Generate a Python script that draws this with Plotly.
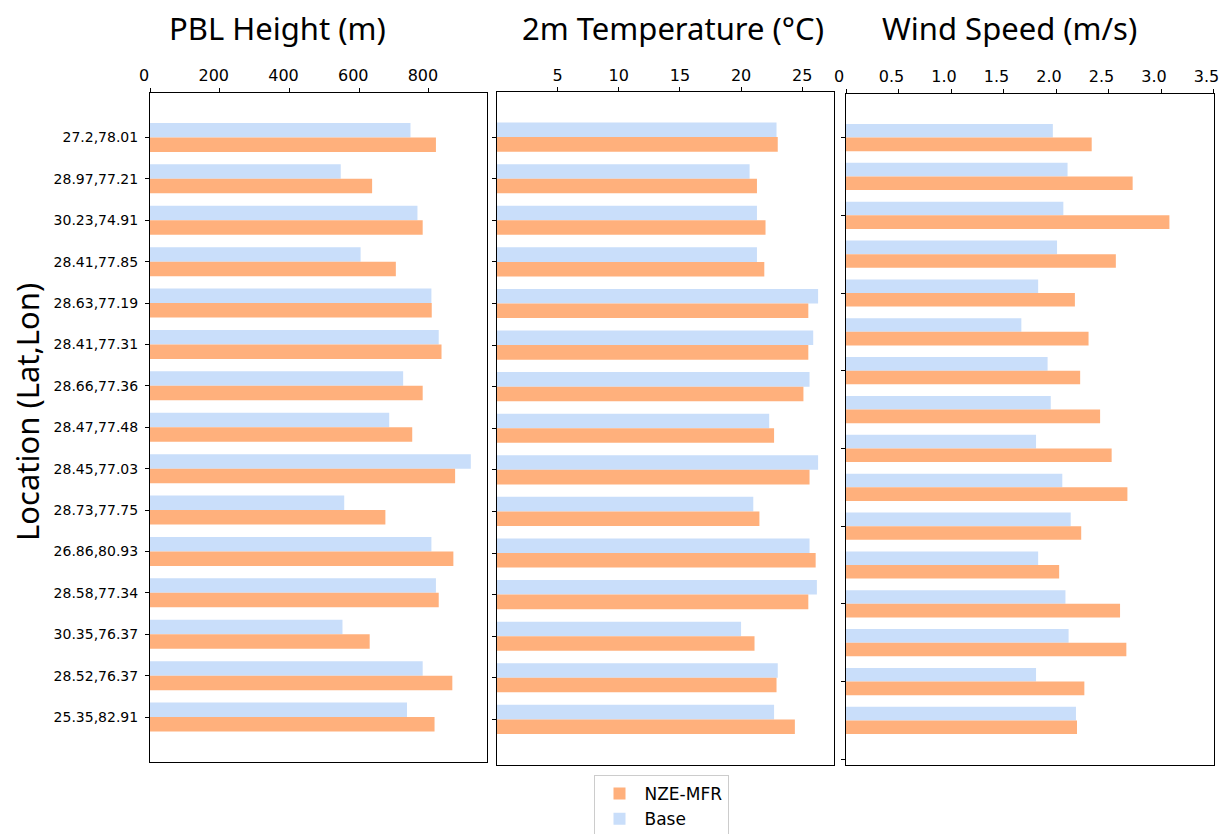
import plotly.graph_objects as go

# Station coordinates (Lat,Lon) for the PBL and temperature panels
locations = [
    "27.2,78.01", "28.97,77.21", "30.23,74.91", "28.41,77.85", "28.63,77.19",
    "28.41,77.31", "28.66,77.36", "28.47,77.48", "28.45,77.03", "28.73,77.75",
    "26.86,80.93", "28.58,77.34", "30.35,76.37", "28.52,76.37", "25.35,82.91",
]

# PBL height (m)
pbl_base = [747, 547, 767, 604, 807, 828, 726, 686, 920, 557, 807, 820, 552, 782, 737]
pbl_nze = [820, 637, 782, 705, 808, 836, 782, 752, 875, 675, 870, 828, 630, 867, 816]

# 2 m temperature (°C)
t2_base = [22.9, 20.7, 21.3, 21.3, 26.3, 25.9, 25.6, 22.3, 26.3, 21.0, 25.6, 26.2, 20.0, 23.0, 22.7]
t2_nze = [23.0, 21.3, 22.0, 21.9, 25.5, 25.5, 25.1, 22.7, 25.6, 21.5, 26.1, 25.5, 21.1, 22.9, 24.4]

# Wind speed (m/s) - 16 stations, unlabeled rows
wind_rows = list(range(16))
ws_base = [1.97, 2.11, 2.07, 2.01, 1.83, 1.67, 1.92, 1.95, 1.81, 2.06, 2.14, 1.83, 2.09, 2.12, 1.81, 2.19]
ws_nze = [2.34, 2.73, 3.08, 2.57, 2.18, 2.31, 2.23, 2.42, 2.53, 2.68, 2.24, 2.03, 2.61, 2.67, 2.27, 2.20]

pbl_ticks = [0, 200, 400, 600, 800]
t2_ticks = [5, 10, 15, 20, 25]
ws_ticks = [0, 0.5, 1.0, 1.5, 2.0, 2.5, 3.0, 3.5]
ws_ticktext = ["0", "0.5", "1.0", "1.5", "2.0", "2.5", "3.0", "3.5"]

BASE_COLOR = "rgb(201,222,250)"
NZE_COLOR = "rgb(255,176,124)"
W, H = 1226, 834

fig = go.Figure()

panels = [
    ("x", "y", locations, pbl_base, pbl_nze, True),
    ("x2", "y2", locations, t2_base, t2_nze, False),
    ("x3", "y3", wind_rows, ws_base, ws_nze, False),
]
for xa, ya, cats, base, nze, show in panels:
    fig.add_trace(go.Bar(
        y=cats, x=base, orientation="h", name="Base", marker_color=BASE_COLOR,
        marker_line_width=0, xaxis=xa, yaxis=ya, legendgroup="base", showlegend=show,
    ))
    fig.add_trace(go.Bar(
        y=cats, x=nze, orientation="h", name="NZE-MFR", marker_color=NZE_COLOR,
        marker_line_width=0, xaxis=xa, yaxis=ya, legendgroup="nze", showlegend=show,
    ))

tick_font = dict(family="DejaVu Sans", size=16, color="black")


def xaxis_style(domain, rng, tickvals, ticktext=None, anchor="y", shift=0):
    d = dict(
        domain=domain, range=rng, side="top", tickvals=tickvals,
        ticks="outside", ticklen=4, tickcolor="black", tickfont=tick_font,
        ticklabelshift=shift, automargin=False,
        showline=True, linecolor="black", linewidth=1, mirror=True,
        showgrid=False, zeroline=False, anchor=anchor,
    )
    if ticktext is not None:
        d["ticktext"] = ticktext
    return d


def yaxis_style(domain, rng, anchor, labels=True):
    return dict(
        domain=domain, range=rng, ticks="outside", ticklen=4, tickcolor="black",
        showticklabels=labels, ticklabelstandoff=4, automargin=False,
        tickfont=dict(family="DejaVu Sans", size=14, color="black"),
        showline=True, linecolor="black", linewidth=1, mirror=True,
        showgrid=False, zeroline=False, anchor=anchor,
    )


def px_x(a, b):
    return [a / W, b / W]


def px_y(top, bottom):
    return [1 - bottom / H, 1 - top / H]


fig.update_layout(
    width=W, height=H,
    margin=dict(l=0, r=0, t=0, b=0, autoexpand=False),
    paper_bgcolor="white", plot_bgcolor="white",
    barmode="group", bargap=0.3, bargroupgap=0,
    xaxis=xaxis_style(px_x(150, 486.5), [0, 965], pbl_ticks, anchor="y", shift=-6),
    xaxis2=xaxis_style(px_x(496.5, 834), [0, 27.6], t2_ticks, anchor="y2"),
    xaxis3=xaxis_style(px_x(846, 1213.5), [0, 3.5], ws_ticks, ws_ticktext,
                       anchor="y3", shift=-7),
    yaxis=yaxis_style(px_y(92.5, 762), [14.5 + 0.585, -0.5 - 0.585], "x", True),
    yaxis2=yaxis_style(px_y(92, 764.5), [14.5 + 0.585, -0.5 - 0.585], "x2", False),
    yaxis3=yaxis_style(px_y(93.5, 764.5), [15.5 + 0.635, -0.5 - 0.635], "x3", False),
    legend=dict(
        x=661 / W, xanchor="center", y=1 - 775 / H, yanchor="top",
        traceorder="reversed", bgcolor="white", bordercolor="#cccccc", borderwidth=1,
        font=dict(family="DejaVu Sans", size=17, color="black"),
        itemwidth=40,
    ),
    font=dict(family="DejaVu Sans", color="black"),
)

title_font = dict(family="Noto Sans", size=31, color="black")
for text, xc in [("PBL Height (m)", 277), ("2m Temperature (°C)", 673), ("Wind Speed (m/s)", 1009)]:
    fig.add_annotation(
        text=text, x=xc / W, y=1 - 28 / H, xref="paper", yref="paper",
        xanchor="center", yanchor="middle", showarrow=False, font=title_font,
    )

fig.add_annotation(
    text="Location (Lat,Lon)", x=27 / W, y=1 - 412 / H, xref="paper", yref="paper",
    xanchor="center", yanchor="middle", showarrow=False, textangle=-90,
    font=dict(family="Noto Sans", size=31, color="black"),
)

fig.write_html("out.html")
